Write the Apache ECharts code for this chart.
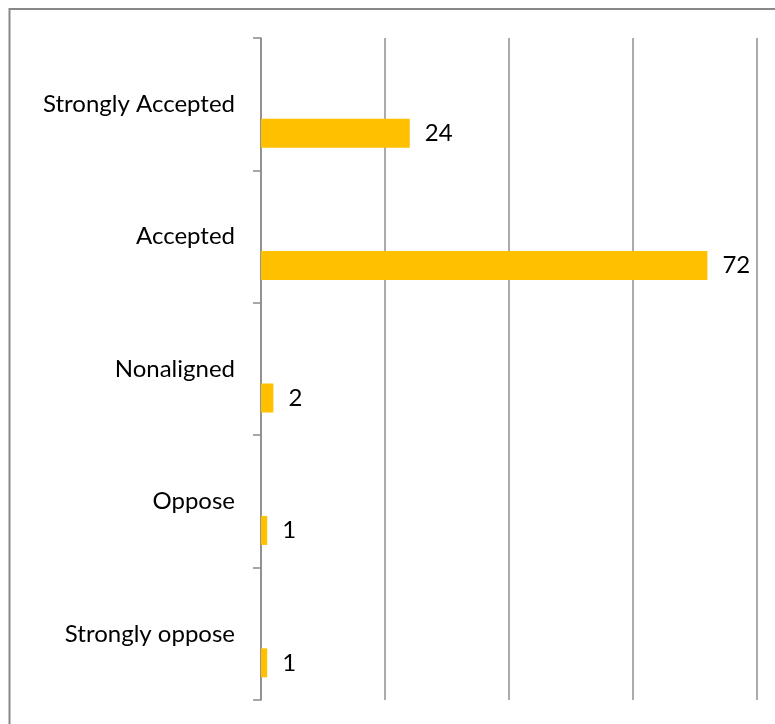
<!DOCTYPE html>
<html>
<head>
<meta charset="utf-8">
<script src="https://cdn.jsdelivr.net/npm/echarts@6/dist/echarts.min.js"></script>
<style>
  html, body { margin: 0; padding: 0; background: #fff; }
  #chart { width: 775px; height: 724px; }
</style>
</head>
<body>
<div id="chart"></div>
<script>
// Survey responses
const categories = ['Strongly Accepted', 'Accepted', 'Nonaligned', 'Oppose', 'Strongly oppose'];
const responses = [24, 72, 2, 1, 1];
const placeholder = [null, null, null, null, null];
const xTicks = [0, 20, 40, 60, 80];

const chart = echarts.init(document.getElementById('chart'), null, { renderer: 'canvas' });

const font = 'Lato, Open Sans, sans-serif';

chart.setOption({
  animation: false,
  backgroundColor: '#ffffff',
  graphic: [{
    type: 'rect',
    shape: { x: 9.5, y: 9, width: 900, height: 900 },
    style: { fill: 'none', stroke: '#888888', lineWidth: 2 },
    silent: true,
    z: -1
  }],
  grid: { left: 261, right: 18, top: 38, bottom: 24, containLabel: false },
  xAxis: {
    type: 'value',
    min: xTicks[0],
    max: xTicks[xTicks.length - 1],
    interval: xTicks[1] - xTicks[0],
    axisLine: { show: false },
    axisTick: { show: false },
    axisLabel: { show: false },
    splitLine: { show: true, lineStyle: { color: '#8f8f8f', width: 1.5 } }
  },
  yAxis: {
    type: 'category',
    data: categories,
    inverse: true,
    axisLine: { show: true, lineStyle: { color: '#8a8a8a', width: 1.5 } },
    axisTick: { show: true, length: 8, lineStyle: { color: '#8a8a8a', width: 1.5 } },
    axisLabel: { margin: 26, color: '#000', fontSize: 24, fontFamily: font }
  },
  series: [
    {
      type: 'bar',
      data: placeholder,
      barWidth: 29,
      barGap: '100%',
      silent: true
    },
    {
      type: 'bar',
      data: responses,
      barWidth: 29,
      barGap: '100%',
      itemStyle: { color: '#FFC000' },
      label: {
        show: true,
        position: 'right',
        distance: 15,
        color: '#000',
        fontSize: 24,
        fontFamily: font
      }
    }
  ]
});
</script>
</body>
</html>
